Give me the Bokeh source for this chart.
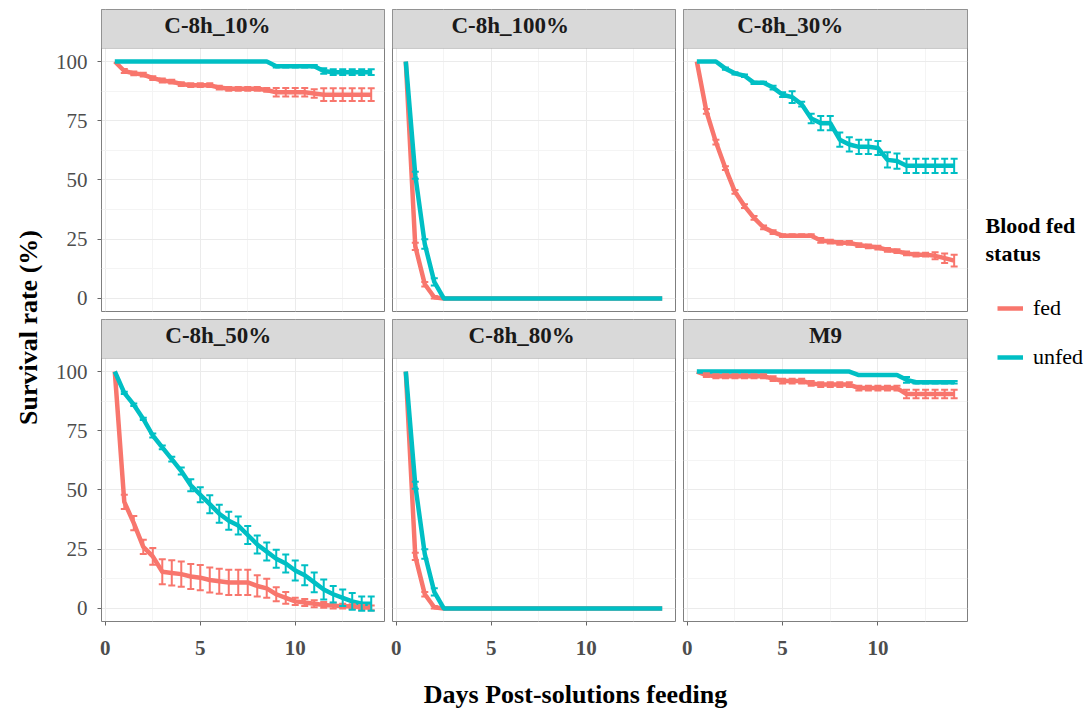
from math import pi
from bokeh.plotting import figure
from bokeh.models import (Range1d, FixedTicker, Whisker, TeeHead, ColumnDataSource,
                          BoxAnnotation, Label, Legend, LegendItem)
from bokeh.layouts import row, column
from bokeh.embed import file_html
from bokeh.resources import INLINE

# ---------------- data ----------------
days = [0.5, 1.0, 1.5, 2.0, 2.5, 3.0, 3.5, 4.0, 4.5, 5.0, 5.5, 6.0, 6.5, 7.0,
        7.5, 8.0, 8.5, 9.0, 9.5, 10.0, 10.5, 11.0, 11.5, 12.0, 12.5, 13.0, 13.5, 14.0]

panel_names = ["C-8h_10%", "C-8h_100%", "C-8h_30%", "C-8h_50%", "C-8h_80%", "M9"]
status_labels = ["fed", "unfed"]
legend_title_lines = ["Blood fed", "status"]
x_ticks = [0, 5, 10]
x_minor = [2.5, 7.5, 12.5]
y_ticks = [0, 25, 50, 75, 100]
y_minor = [12.5, 37.5, 62.5, 87.5]
x_title = "Days Post-solutions feeding"
y_title = "Survival rate (%)"

fed_10 = [100, 96, 95, 94.5, 93, 92, 91.5, 90.5, 90, 90, 90, 89, 88.5, 88.5,
          88.5, 88.5, 88, 87, 87, 87, 87, 86.5, 86, 86, 86, 86, 86, 86]
fed_10_err = [0, 0.8, 0.8, 0.8, 0.8, 0.8, 0.8, 0.8, 0.8, 0.8, 0.8, 0.8, 0.8, 0.8,
              0.8, 0.8, 0.8, 1.8, 1.8, 1.8, 1.8, 1.8, 2.7, 2.7, 2.7, 2.7, 2.7, 2.7]
unfed_10 = [100, 100, 100, 100, 100, 100, 100, 100, 100, 100, 100, 100, 100, 100,
            100, 100, 100, 98, 98, 98, 98, 98, 96, 95.5, 95.5, 95.5, 95.5, 95.5]
unfed_10_err = [0, 0, 0, 0, 0, 0, 0, 0, 0, 0, 0, 0, 0, 0,
                0, 0, 0, 0.5, 0.5, 0.5, 0.5, 0.5, 1.2, 1.2, 1.2, 1.2, 1.2, 1.2]

fed_100 = [100, 22, 6, 0.5, 0, 0, 0, 0, 0, 0, 0, 0, 0, 0,
           0, 0, 0, 0, 0, 0, 0, 0, 0, 0, 0, 0, 0, 0]
fed_100_err = [0, 1.5, 1, 0.5, 0, 0, 0, 0, 0, 0, 0, 0, 0, 0,
               0, 0, 0, 0, 0, 0, 0, 0, 0, 0, 0, 0, 0, 0]
unfed_100 = [100, 52, 23, 7, 0, 0, 0, 0, 0, 0, 0, 0, 0, 0,
             0, 0, 0, 0, 0, 0, 0, 0, 0, 0, 0, 0, 0, 0]
unfed_100_err = [0, 1.5, 2, 1.5, 0, 0, 0, 0, 0, 0, 0, 0, 0, 0,
                 0, 0, 0, 0, 0, 0, 0, 0, 0, 0, 0, 0, 0, 0]

fed_30 = [100, 79, 66, 55, 45, 39, 34, 30, 28, 26.5, 26.5, 26.5, 26.5, 24.5,
          24, 23.5, 23.5, 22.5, 22, 21.5, 20.5, 20, 19, 18.5, 18.5, 18, 17, 16]
fed_30_err = [0, 1, 1, 0.8, 0.8, 0.8, 0.8, 0.8, 0.8, 0.6, 0.6, 0.6, 0.6, 1,
              0.8, 0.8, 0.8, 0.8, 0.8, 0.8, 0.8, 0.8, 0.8, 0.8, 0.8, 1.5, 2, 2.5]
unfed_30 = [100, 100, 100, 97, 95, 94, 91, 91, 89, 86, 85, 82, 76, 74,
            74, 67, 65, 64, 64, 63.5, 58.5, 58, 56, 56, 56, 56, 56, 56]
unfed_30_err = [0, 0, 0, 0.5, 0.5, 0.5, 0.5, 0.5, 0.8, 1, 2.5, 1, 2, 3,
                3, 3, 3, 3, 3, 3, 3.2, 3.2, 3, 3, 3, 3, 3, 3]

fed_50 = [100, 45, 36, 26, 22, 15.5, 15, 14.5, 13.5, 13, 12, 11.5, 11, 11,
          11, 9.5, 8.5, 6, 4.5, 3, 2.5, 2, 1.5, 1.2, 1, 0.8, 0.5, 0.3]
fed_50_err = [0, 3, 3, 3, 3.5, 5.3, 5.3, 5.3, 5.3, 5.3, 5.3, 5.3, 5.3, 5.3,
              5.3, 4.5, 4, 3, 2.5, 1.5, 1.5, 1.5, 1.2, 1.2, 1, 1, 1, 1]
unfed_50 = [100, 91, 86, 80, 73, 68, 63, 58, 52, 48, 44, 40, 37, 35,
            31, 27, 24, 21, 19, 16, 14, 11, 8, 6, 4.5, 3, 2, 2]
unfed_50_err = [0, 0.5, 0.5, 0.5, 0.8, 0.8, 1, 1.5, 2.5, 3.2, 3.8, 3.8, 3.8, 3.8,
                3.8, 3.8, 3.8, 3.8, 3.8, 4.2, 4.2, 4.2, 4.2, 3.5, 3.5, 3.5, 3, 3]

fed_80 = [100, 22, 6, 0.5, 0, 0, 0, 0, 0, 0, 0, 0, 0, 0,
          0, 0, 0, 0, 0, 0, 0, 0, 0, 0, 0, 0, 0, 0]
fed_80_err = [0, 1.5, 1, 0.5, 0, 0, 0, 0, 0, 0, 0, 0, 0, 0,
              0, 0, 0, 0, 0, 0, 0, 0, 0, 0, 0, 0, 0, 0]
unfed_80 = [100, 52, 23, 7, 0, 0, 0, 0, 0, 0, 0, 0, 0, 0,
            0, 0, 0, 0, 0, 0, 0, 0, 0, 0, 0, 0, 0, 0]
unfed_80_err = [0, 1.5, 2, 1.5, 0, 0, 0, 0, 0, 0, 0, 0, 0, 0,
                0, 0, 0, 0, 0, 0, 0, 0, 0, 0, 0, 0, 0, 0]

fed_m9 = [100, 98.5, 98, 98, 98, 98, 98, 98, 97, 96, 96, 96, 95, 94.5,
          94.5, 94.5, 94.5, 93, 93, 93, 93, 93, 90.5, 90.5, 90.5, 90.5, 90.5, 90.5]
fed_m9_err = [0, 0.8, 0.8, 0.8, 0.8, 0.8, 0.8, 0.8, 1, 1, 1, 1, 1, 1,
              1, 1, 1, 1, 1, 1, 1, 1, 1.8, 1.8, 1.8, 1.8, 1.8, 1.8]
unfed_m9 = [100, 100, 100, 100, 100, 100, 100, 100, 100, 100, 100, 100, 100, 100,
            100, 100, 100, 98.5, 98.5, 98.5, 98.5, 98.5, 96.5, 95.5, 95.5, 95.5, 95.5, 95.5]
unfed_m9_err = [0, 0, 0, 0, 0, 0, 0, 0, 0, 0, 0, 0, 0, 0,
                0, 0, 0, 0, 0, 0, 0, 0, 1.2, 0.5, 0.5, 0.5, 0.5, 0.5]

panels_data = [
    (fed_10, fed_10_err, unfed_10, unfed_10_err),
    (fed_100, fed_100_err, unfed_100, unfed_100_err),
    (fed_30, fed_30_err, unfed_30, unfed_30_err),
    (fed_50, fed_50_err, unfed_50, unfed_50_err),
    (fed_80, fed_80_err, unfed_80, unfed_80_err),
    (fed_m9, fed_m9_err, unfed_m9, unfed_m9_err),
]

# ---------------- style ----------------
RED = "#F8766D"
TEAL = "#00BFC4"
FONT = "Liberation Serif"
BORDER = "#7F7F7F"
STRIP_FILL = "#D9D9D9"
TICK_COL = "#4D4D4D"
X0, X1 = -0.2, 14.7
Y0, PANEL_TOP, Y1 = -5.5, 105.5, 121.96
strip_label_x = [5.9, 6.0, 5.4, 5.95, 6.6, 7.25]
LINE_W = 4.5


def add_errorbars(p, x, y, err, color):
    xs, lo, hi = [], [], []
    for xi, yi, ei in zip(x, y, err):
        if ei > 0:
            xs.append(xi)
            lo.append(yi - ei)
            hi.append(yi + ei)
    if not xs:
        return
    src = ColumnDataSource(dict(t=xs, lo=lo, hi=hi))
    w = Whisker(source=src, base="t", lower="lo", upper="hi", dimension="height",
                line_color=color, line_width=2,
                upper_head=TeeHead(size=7, line_color=color, line_width=2),
                lower_head=TeeHead(size=7, line_color=color, line_width=2))
    w.level = "glyph"
    p.add_layout(w)


def make_panel(i):
    r, c = divmod(i, 3)
    left = 53 if c == 0 else 4
    right = 4 if c < 2 else 2
    frame_w = 283 if c < 2 else 284
    top = 9 if r == 0 else 1
    bottom = 7 if r == 0 else 45
    p = figure(width=left + frame_w + right, height=top + 302 + bottom,
               x_range=Range1d(X0, X1), y_range=Range1d(Y0, Y1),
               output_backend="svg", toolbar_location=None,
               min_border_left=left, min_border_right=right,
               min_border_top=top, min_border_bottom=bottom)
    p.background_fill_color = "white"
    p.border_fill_color = "white"
    p.outline_line_color = BORDER
    p.outline_line_width = 1

    p.xaxis.ticker = FixedTicker(ticks=x_ticks)
    p.yaxis.ticker = FixedTicker(ticks=y_ticks)
    p.xgrid.ticker = FixedTicker(ticks=x_ticks, minor_ticks=x_minor)
    p.ygrid.ticker = FixedTicker(ticks=y_ticks, minor_ticks=y_minor)
    for g in (p.xgrid, p.ygrid):
        g.grid_line_color = "#EBEBEB"
        g.grid_line_width = 1
        g.minor_grid_line_color = "#F4F4F4"
        g.minor_grid_line_width = 1

    for ax in (p.xaxis, p.yaxis):
        ax.axis_line_color = None
        ax.major_tick_line_color = "#666666"
        ax.major_tick_out = 4
        ax.major_tick_in = 0
        ax.minor_tick_line_color = None
        ax.major_label_text_font = FONT
        ax.major_label_text_color = TICK_COL
        ax.major_label_text_font_size = "21px"
    p.yaxis.major_label_standoff = 10
    p.xaxis.major_label_text_font_style = "bold"
    p.xaxis.major_label_standoff = 15
    if c != 0:
        p.yaxis.visible = False
    if r == 0:
        p.xaxis.visible = False

    fed, fed_err, unfed, unfed_err = panels_data[i]
    p.line(days, fed, line_color=RED, line_width=LINE_W, line_join="round")
    add_errorbars(p, days, fed, fed_err, RED)
    p.line(days, unfed, line_color=TEAL, line_width=LINE_W, line_join="round")
    add_errorbars(p, days, unfed, unfed_err, TEAL)

    strip = BoxAnnotation(bottom=PANEL_TOP, fill_color=STRIP_FILL, fill_alpha=1,
                          line_color=BORDER, line_width=1, level="annotation")
    p.add_layout(strip)
    p.add_layout(Label(x=strip_label_x[i], y=115.0, text=panel_names[i],
                       text_align="center", text_baseline="middle",
                       text_font=FONT, text_font_style="bold",
                       text_font_size="23px", text_color="#1A1A1A"))
    return p


panels = [make_panel(i) for i in range(6)]
grid = column(row(*panels[:3]), row(*panels[3:]))

GRID_H = 318 + 348
YT_W = 48
LW = 119

# y title
yt = figure(width=YT_W, height=GRID_H, x_range=Range1d(0, YT_W), y_range=Range1d(0, GRID_H),
            x_axis_type=None, y_axis_type=None, output_backend="svg",
            toolbar_location=None, min_border=0)
yt.outline_line_color = None
yt.add_layout(Label(x=28, y=339, text=y_title, angle=pi / 2,
                    text_align="center", text_baseline="middle",
                    text_font=FONT, text_font_style="bold",
                    text_font_size="26px", text_color="black"))

# legend
lf = figure(width=LW, height=GRID_H, x_range=Range1d(0, LW), y_range=Range1d(0, GRID_H),
            x_axis_type=None, y_axis_type=None, output_backend="svg",
            toolbar_location=None, min_border=0)
lf.outline_line_color = None
lf.add_layout(Label(x=16, y=441, text=legend_title_lines[0], text_align="left",
                    text_baseline="alphabetic", text_font=FONT, text_font_style="bold",
                    text_font_size="22px", text_color="black"))
lf.add_layout(Label(x=16, y=413, text=legend_title_lines[1], text_align="left",
                    text_baseline="alphabetic", text_font=FONT, text_font_style="bold",
                    text_font_size="22px", text_color="black"))
# hidden key renderers (outside the visible range) that only feed the legend
r_fed = lf.line(x=[-20, -10], y=[-20, -20], line_color=RED, line_width=LINE_W)
r_unfed = lf.line(x=[-20, -10], y=[-20, -20], line_color=TEAL, line_width=LINE_W)
legend = Legend(items=[LegendItem(label=status_labels[0], renderers=[r_fed]),
                       LegendItem(label=status_labels[1], renderers=[r_unfed])],
                location=(28, 289), orientation="vertical",
                glyph_width=26, glyph_height=40, spacing=9, padding=0, margin=0,
                label_standoff=10, label_text_font=FONT, label_text_font_size="22px",
                label_text_color="black", border_line_color=None,
                background_fill_alpha=0)
lf.add_layout(legend)

TOTAL_W = YT_W + 340 + 291 + 290 + LW
xt = figure(width=TOTAL_W, height=44, x_range=Range1d(0, TOTAL_W), y_range=Range1d(0, 44),
            x_axis_type=None, y_axis_type=None, output_backend="svg",
            toolbar_location=None, min_border=0)
xt.outline_line_color = None
xt.add_layout(Label(x=575, y=16, text=x_title, text_align="center",
                    text_baseline="middle", text_font=FONT, text_font_style="bold",
                    text_font_size="26px", text_color="black"))

layout = column(row(yt, grid, lf), xt)

open("out.html", "w").write(file_html(layout, INLINE))
